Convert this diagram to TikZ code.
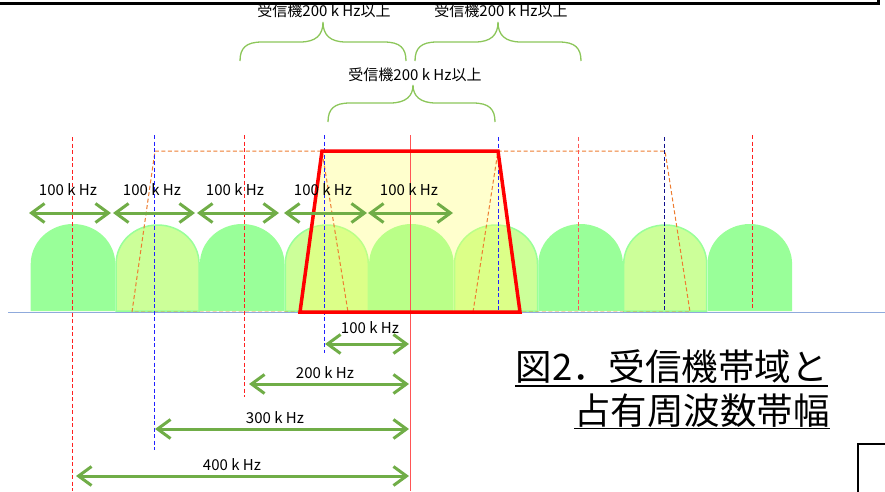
\documentclass[tikz,border=0pt]{standalone}
\usepackage{fontspec}
\setmainfont{Noto Sans CJK JP}
\usetikzlibrary{arrows.meta}
\definecolor{bumpgreen}{HTML}{99FF99}
\definecolor{bumplight}{HTML}{CCFF99}
\definecolor{arrowgreen}{HTML}{70AD47}
\definecolor{bracegreen}{HTML}{8CC65A}
\definecolor{maskorange}{HTML}{ED7D31}
\definecolor{baseblue}{HTML}{8FAADC}
\definecolor{bandyellow}{HTML}{FFFF66}
\definecolor{chred}{HTML}{FF2020}
\definecolor{chpink}{HTML}{FF5555}
\definecolor{chblue}{HTML}{2020FF}
\definecolor{chnavy}{HTML}{10108C}
\tikzset{
  khz/.style={font=\fontsize{15}{18}\selectfont, inner sep=0pt},
  captext/.style={font=\fontsize{36.5}{40}\selectfont, inner sep=0pt},
  bandarrow/.style={arrowgreen, line width=3pt,
    {Straight Barb[length=13pt,width=19pt]}-{Straight Barb[length=13pt,width=19pt]}},
  chline/.style={line width=1pt, dash pattern=on 4pt off 2.5pt},
  recvbrace/.style={bracegreen, line width=1.3pt},
}
\begin{document}
\begin{tikzpicture}[x=1pt,y=-1pt]
 \useasboundingbox (0,0) rectangle (885,491);
 % channels
 \foreach \cx in {73,242.2,411.4,580.6,749.8}
   \fill[bumpgreen] (\cx-42.3,311) -- (\cx-42.3,264) .. controls (\cx-42.3,242) and (\cx-23.4,224) .. (\cx,224)
     .. controls (\cx+23.4,224) and (\cx+42.3,242) .. (\cx+42.3,264) -- (\cx+42.3,311) -- cycle;
 \foreach \cx in {157.6,326.8,496,665.2}
   \draw[fill=bumplight, draw=bumpgreen, line width=1.5pt] (\cx-41.5,311) -- (\cx-41.5,264) .. controls (\cx-41.5,242) and (\cx-23,225) .. (\cx,225)
     .. controls (\cx+23,225) and (\cx+41.5,242) .. (\cx+41.5,264) -- (\cx+41.5,311) -- cycle;
 % occupied band
 \coordinate (rbl) at (300,312);
 \coordinate (rtl) at (322,151);
 \coordinate (rtr) at (498,151);
 \coordinate (rbr) at (520,312);
 \fill[bandyellow, opacity=.33] (rbl) -- (rtl) -- (rtr) -- (rbr) -- cycle;
 \draw[maskorange, chline] (132,312) -- (155,151) -- (322,151) -- (348,312) -- cycle;
 \draw[maskorange, chline] (473,312) -- (498,151) -- (665,151) -- (690,312) -- cycle;
 \draw[baseblue, line width=1.3pt] (8,312.5) -- (885,312.5);
 % channel centres
 \foreach \x/\ya/\yb/\lc in {72.5/137/491/chred, 154.5/135/450/chblue, 244.5/135/397/chred, 324.5/135/353/chblue, 498.5/137/312/chblue, 578.5/137/312/chpink, 664.5/137/312/chnavy, 752.5/135/310/chred}
   \draw[draw=\lc, chline] (\x,\ya) -- (\x,\yb);
 \draw[chpink, line width=1pt] (410.5,135) -- (410.5,491);
 \draw[red, line width=3.5pt] (rbl) -- (rtl) -- (rtr) -- (rbr) -- cycle;
 % 100 kHz steps
 \foreach \l/\r/\t [count=\i] in {29/111/68, 113/195/152, 197/279/235, 284/367/323, 368/453/409} {
   \coordinate (stepl\i) at (\l,213);
   \coordinate (stepr\i) at (\r,213);
   \draw[bandarrow] (stepl\i) -- (stepr\i);
   \node[khz] (steptxt\i) at (\t,190) {100 k Hz};
 }
 % offsets from the centre
 \foreach \l/\y/\t/\ty/\lab [count=\i] in {325/344/370/328/100, 249/384/325/373/200, 155/429/275/418/300, 76/476/232/465/400} {
   \coordinate (offl\i) at (\l,\y);
   \coordinate (offr\i) at (409,\y);
   \draw[bandarrow] (offl\i) -- (offr\i);
   \node[khz] (offtxt\i) at (\t,\ty) {\lab\ k Hz};
 }
 % receiver bandwidth
 \draw[recvbrace] (240,61) .. controls (240,48) and (246,42) .. (262,42) -- (300,42)
   .. controls (316,42) and (323,35) .. (323,22) .. controls (323,35) and (330,42) .. (346,42)
   -- (384,42) .. controls (400,42) and (406,48) .. (406,61);
 \draw[recvbrace] (415,61) .. controls (415,48) and (421,42) .. (437,42) -- (475,42)
   .. controls (491,42) and (498,35) .. (498,22) .. controls (498,35) and (505,42) .. (521,42)
   -- (559,42) .. controls (575,42) and (581,48) .. (581,61);
 \draw[recvbrace] (328,122) .. controls (328,109) and (334,103) .. (350,103) -- (390,103)
   .. controls (406,103) and (413,96) .. (413,85) .. controls (413,96) and (420,103) .. (436,103)
   -- (473,103) .. controls (489,103) and (495,109) .. (495,122);
 \node[khz] (recvA) at (324,11) {受信機200 k Hz以上};
 \node[khz] (recvB) at (501,11) {受信機200 k Hz以上};
 \node[khz] (recvC) at (415,75) {受信機200 k Hz以上};
 % caption
 \node[captext, anchor=base east] (capA) at (828,380.5) {図2．受信機帯域と};
 \node[captext, anchor=base east] (capB) at (830,424) {占有周波数帯幅};
 \draw[line width=1.8pt] ([yshift=-5.5pt]capA.base west) -- ([yshift=-5.5pt]capA.base east);
 \draw[line width=1.8pt] ([yshift=-4.5pt]capB.base west) -- ([yshift=-4.5pt]capB.base east);
 % frames
 \draw[line width=3pt] (-5,3.5) -- (878,3.5) -- (878,-5);
 \draw[line width=2pt] (895,444) -- (858,444) -- (858,500);
\end{tikzpicture}
\end{document}
